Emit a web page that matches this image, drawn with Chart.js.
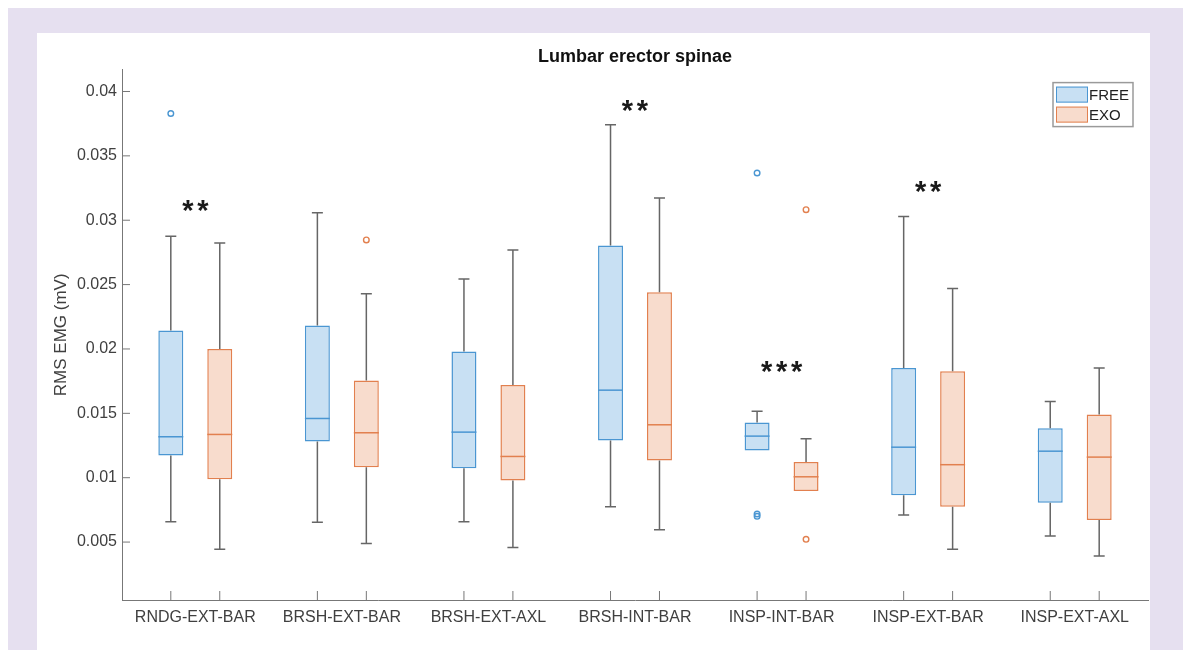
<!DOCTYPE html>
<html>
<head>
<meta charset="utf-8">
<script src="https://cdn.jsdelivr.net/npm/chart.js@4.4.1/dist/chart.umd.min.js"></script>
<style>
  html, body { margin: 0; padding: 0; background: #fff; }
  #frame { position: absolute; left: 8px; top: 8px; width: 1175px; height: 642px; background: #e6e0f0; }
  #panel { position: absolute; left: 37px; top: 33px; width: 1113px; height: 617px; background: #fff; }
  #wrap { position: absolute; left: 0; top: 0; width: 1183px; height: 650px; }
</style>
</head>
<body>
<div id="frame"></div>
<div id="panel"></div>
<div id="wrap"><canvas id="box"></canvas></div>
<script>
document.addEventListener('DOMContentLoaded', init);

// values (mV)
const categories = ['RNDG-EXT-BAR', 'BRSH-EXT-BAR', 'BRSH-EXT-AXL', 'BRSH-INT-BAR', 'INSP-INT-BAR', 'INSP-EXT-BAR', 'INSP-EXT-AXL'];
const seriesNames = ['FREE', 'EXO'];

const freeMin = [0.00658, 0.00653, 0.00658, 0.00775, 0.01212, 0.0071, 0.00547];
const freeQ1 = [0.01173, 0.01282, 0.01074, 0.01289, 0.01212, 0.00863, 0.00806];
const freeMed = [0.01318, 0.0146, 0.01354, 0.0168, 0.01323, 0.01237, 0.01206];
const freeQ3 = [0.02143, 0.02182, 0.0198, 0.02803, 0.01429, 0.01853, 0.01385];
const freeMax = [0.02875, 0.03059, 0.02544, 0.03742, 0.01517, 0.03028, 0.01592];
const freeOut = [[0.03829], [], [], [], [0.03367, 0.0070, 0.00718], [], []];

const exoMin = [0.00444, 0.00488, 0.00457, 0.00596, 0.00896, 0.00444, 0.00391];
const exoQ1 = [0.00987, 0.01082, 0.00979, 0.01134, 0.00896, 0.00775, 0.00671];
const exoMed = [0.01336, 0.01349, 0.01165, 0.01411, 0.01007, 0.01101, 0.0116];
const exoQ3 = [0.02, 0.01755, 0.01721, 0.0244, 0.01121, 0.01827, 0.01491];
const exoMax = [0.02823, 0.02428, 0.02769, 0.03173, 0.01302, 0.02469, 0.01853];
const exoOut = [[], [0.02847], [], [], [0.03082, 0.00521], [], []];

const sigText = ['**', '', '', '**', '***', '**', ''];
const sigLevel = [0.0311, null, null, 0.0389, 0.0186, 0.0326, null];

const yTickValues = [0.005, 0.01, 0.015, 0.02, 0.025, 0.03, 0.035, 0.04];

const blueLine = '#4a96d2', blueFill = '#c8e0f3';
const redLine = '#e2804f', redFill = '#f8dccd';
const whiskerColor = '#666';

let canvasone, chartone;

function init() {
    canvasone = document.getElementById('box');
    chartone = canvasone.getContext('2d');
    Chart.defaults.font.family = '"Liberation Sans", Arial, sans-serif';
    createBoxes();
}

// whiskers, medians, outliers, inner ticks, stars and the legend
const boxExtras = {
    id: 'boxExtras',
    afterDatasetsDraw(chart) {
        const ctx = chart.ctx;
        const y = chart.scales.y;
        const area = chart.chartArea;
        const stats = [
            {min: freeMin, med: freeMed, q1: freeQ1, q3: freeQ3, max: freeMax, out: freeOut, line: blueLine},
            {min: exoMin, med: exoMed, q1: exoQ1, q3: exoQ3, max: exoMax, out: exoOut, line: redLine}
        ];
        ctx.save();
        stats.forEach((s, d) => {
            const meta = chart.getDatasetMeta(d);
            meta.data.forEach((bar, i) => {
                const x = bar.x;
                const half = bar.width / 2;
                ctx.strokeStyle = whiskerColor;
                ctx.lineWidth = 1.5;
                ctx.beginPath();
                if (s.max[i] > s.q3[i]) {
                    ctx.moveTo(x, y.getPixelForValue(s.q3[i]));
                    ctx.lineTo(x, y.getPixelForValue(s.max[i]));
                    ctx.moveTo(x - 5.5, y.getPixelForValue(s.max[i]));
                    ctx.lineTo(x + 5.5, y.getPixelForValue(s.max[i]));
                }
                if (s.min[i] < s.q1[i]) {
                    ctx.moveTo(x, y.getPixelForValue(s.q1[i]));
                    ctx.lineTo(x, y.getPixelForValue(s.min[i]));
                    ctx.moveTo(x - 5.5, y.getPixelForValue(s.min[i]));
                    ctx.lineTo(x + 5.5, y.getPixelForValue(s.min[i]));
                }
                ctx.stroke();
                // median
                ctx.strokeStyle = s.line;
                ctx.lineWidth = 1.5;
                ctx.beginPath();
                ctx.moveTo(x - half, y.getPixelForValue(s.med[i]));
                ctx.lineTo(x + half, y.getPixelForValue(s.med[i]));
                ctx.stroke();
                // outliers
                ctx.lineWidth = 1.4;
                s.out[i].forEach(v => {
                    ctx.beginPath();
                    ctx.arc(x, y.getPixelForValue(v), 2.8, 0, Math.PI * 2);
                    ctx.stroke();
                });
                // inner tick on the x axis
                ctx.strokeStyle = '#777';
                ctx.lineWidth = 1;
                ctx.beginPath();
                ctx.moveTo(x, area.bottom);
                ctx.lineTo(x, area.bottom - 9);
                ctx.stroke();
            });
        });

        // inner ticks on the y axis
        ctx.strokeStyle = '#777';
        ctx.lineWidth = 1;
        ctx.beginPath();
        yTickValues.forEach(v => {
            const py = y.getPixelForValue(v);
            ctx.moveTo(area.left, py);
            ctx.lineTo(area.left + 8, py);
        });
        ctx.stroke();

        // significance stars
        ctx.fillStyle = '#1a1a1a';
        ctx.font = 'bold 29px "Liberation Sans", Arial, sans-serif';
        ctx.textAlign = 'center';
        ctx.textBaseline = 'alphabetic';
        const m = ctx.measureText('*');
        const shift = (m.actualBoundingBoxAscent - m.actualBoundingBoxDescent) / 2;
        sigText.forEach((t, i) => {
            if (!t) return;
            const cx = chart.scales.x.getPixelForValue(i);
            const cy = y.getPixelForValue(sigLevel[i]);
            for (let k = 0; k < t.length; k++) {
                ctx.fillText('*', cx + (k - (t.length - 1) / 2) * 15, cy + shift);
            }
        });

        // legend box
        const lx = area.right - 95, ly = area.top + 13;
        ctx.fillStyle = '#fff';
        ctx.fillRect(lx, ly, 80, 44);
        ctx.strokeStyle = '#9a9a9a';
        ctx.lineWidth = 1.5;
        ctx.strokeRect(lx, ly, 80, 44);
        const sw = [[blueFill, blueLine], [redFill, redLine]];
        ctx.font = '15px "Liberation Sans", Arial, sans-serif';
        ctx.textAlign = 'left';
        ctx.textBaseline = 'middle';
        seriesNames.forEach((name, k) => {
            const sy = ly + 4 + k * 20;
            ctx.fillStyle = sw[k][0];
            ctx.fillRect(lx + 3, sy, 32, 16);
            ctx.strokeStyle = sw[k][1];
            ctx.lineWidth = 1;
            ctx.strokeRect(lx + 3.5, sy + 0.5, 31, 15);
            ctx.fillStyle = '#222';
            ctx.fillText(name, lx + 36, sy + 9);
        });
        ctx.restore();
    }
};

function createBoxes() {
    new Chart(chartone, {
        type: 'bar',
        data: {
            labels: categories,
            datasets: [{
                label: seriesNames[0],
                data: freeQ1.map((q, i) => [q, freeQ3[i]]),
                backgroundColor: blueFill,
                borderColor: blueLine,
                borderWidth: 1.5,
                borderSkipped: false,
                categoryPercentage: 0.668,
                barPercentage: 0.51
            }, {
                label: seriesNames[1],
                data: exoQ1.map((q, i) => [q, exoQ3[i]]),
                backgroundColor: redFill,
                borderColor: redLine,
                borderWidth: 1.5,
                borderSkipped: false,
                categoryPercentage: 0.668,
                barPercentage: 0.51
            }]
        },
        options: {
            responsive: true,
            maintainAspectRatio: false,
            animation: false,
            layout: {padding: {left: 45, right: 35, top: 0, bottom: 0}},
            scales: {
                x: {
                    grid: {display: false, drawTicks: false},
                    border: {color: '#777', width: 1},
                    ticks: {color: '#404040', font: {size: 16}, padding: 8},
                    afterFit: s => { s.height = 50; }
                },
                y: {
                    min: 0.0005,
                    max: 0.0417,
                    grid: {display: false, drawTicks: false},
                    border: {color: '#777', width: 1},
                    ticks: {
                        color: '#404040',
                        font: {size: 16},
                        padding: 5,
                        includeBounds: false,
                        callback: v => String(+v.toFixed(4))
                    },
                    afterBuildTicks: s => { s.ticks = yTickValues.map(v => ({value: v})); },
                    afterFit: s => { s.width = 77; },
                    title: {
                        display: true,
                        text: 'RMS EMG (mV)',
                        color: '#404040',
                        font: {size: 17},
                        padding: {top: 6, bottom: 0}
                    }
                }
            },
            plugins: {
                legend: {display: false},
                tooltip: {enabled: false},
                title: {
                    display: true,
                    text: 'Lumbar erector spinae',
                    color: '#111',
                    fullSize: false,
                    font: {size: 18, weight: 'bold'},
                    padding: {top: 46, bottom: 2}
                }
            }
        },
        plugins: [boxExtras]
    });
}
</script>
</body>
</html>
